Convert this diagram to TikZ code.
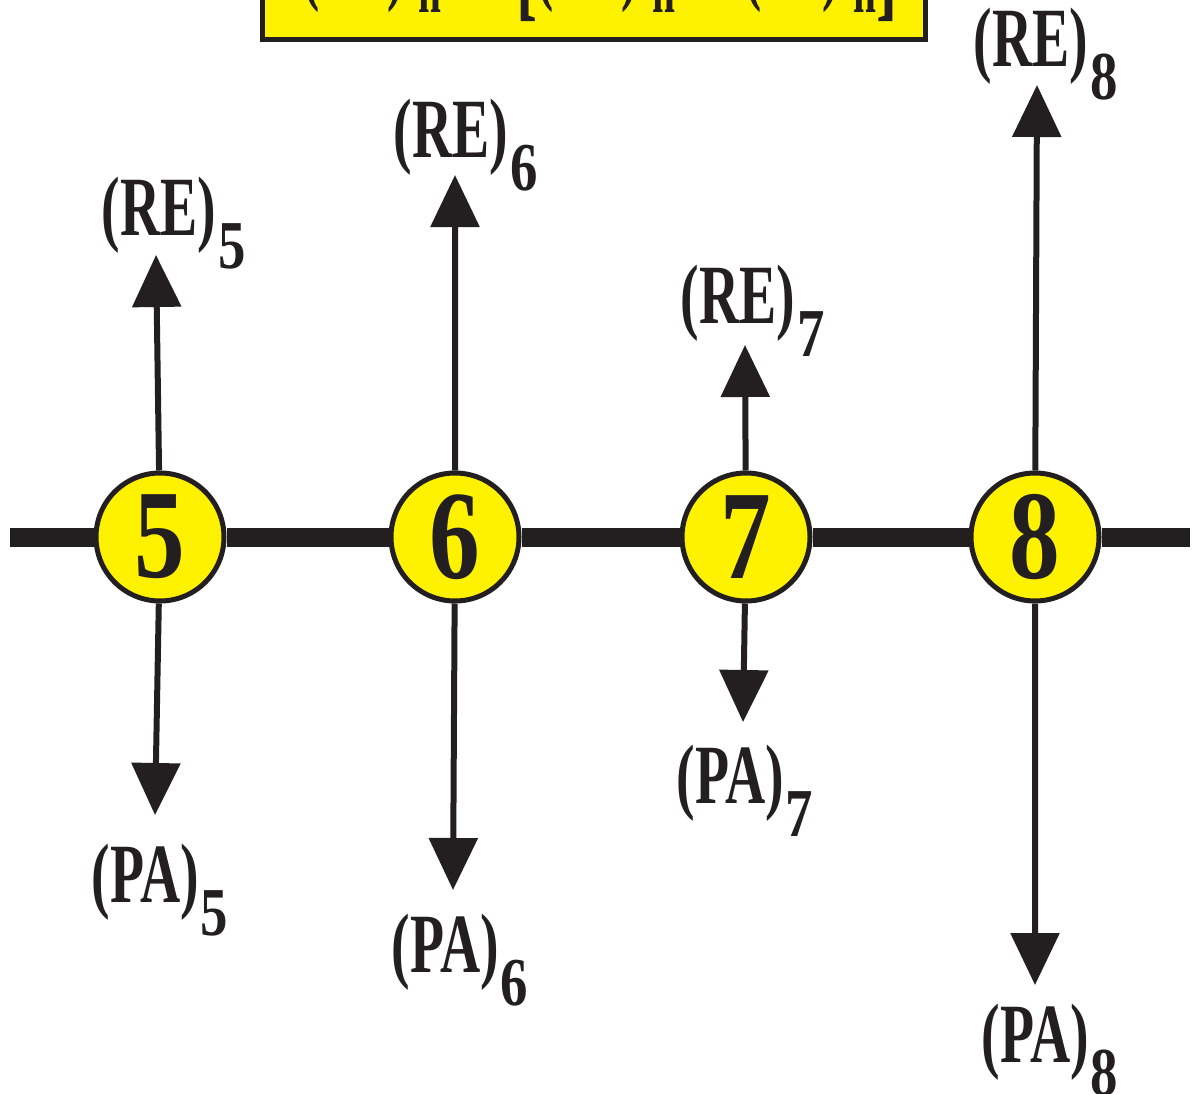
\documentclass[tikz,border=0pt]{standalone}
\usepackage{fontspec}
\setmainfont{Liberation Serif}
\usepackage{graphicx}
\usetikzlibrary{arrows.meta,positioning}
\definecolor{ink}{RGB}{35,31,32}
\definecolor{lemon}{RGB}{255,242,0}
\newcommand{\lbl}[2]{\scalebox{0.66}[1]{\fontsize{24}{24}\selectfont(#1)}\kern0.02cm\raisebox{-0.33cm}{\scalebox{0.8}[1]{\fontsize{19.5}{19.5}\selectfont#2}}}
\newcommand{\dig}[1]{\scalebox{0.8}[1]{#1}}
\newcommand{\subn}{\raisebox{-0.17cm}{\fontsize{19.5}{19.5}\selectfont n}}
\newcommand{\eqtext}{\scalebox{0.6}[1]{\fontsize{23}{23}\selectfont(NE)\kern0.25cm\subn\kern0.40cm=\kern0.40cm\raisebox{-0.12cm}{\fontsize{30}{30}\selectfont[}(RE)\kern0.25cm\subn\kern0.35cm−\kern0.35cm(PA)\kern0.25cm\subn\raisebox{-0.12cm}{\fontsize{30}{30}\selectfont]}}}

\begin{document}
\begin{tikzpicture}[node distance=1.6cm]
	\tikzstyle{every node}=[text=ink,font=\bfseries]
	\tikzstyle{stage}=[circle,draw=ink,fill=lemon,line width=0.05cm,minimum size=1.28cm,inner sep=0,font=\bfseries\fontsize{36}{36}\selectfont]
	\tikzstyle{rail}=[draw=ink,line width=0.19cm]
	\tikzstyle{flow}=[color=ink,line width=0.06cm,-{Triangle[width=0.48cm,length=0.52cm]}]
	\tikzstyle{tag}=[anchor=base west,inner sep=0]
	\tikzstyle{eqbox}=[rectangle,draw=ink,fill=lemon,line width=0.05cm,outer sep=0,minimum width=6.63cm,minimum height=2cm,anchor=south west]

	\useasboundingbox (0,0) rectangle (11.92,-10.94);

	\node[eqbox] (eqn) at (2.625,-0.395) {};
	\node[tag] (eq) at (3.03,0.04) {\eqtext};

	\node[stage] (s5) at (1.60,-5.37) {\dig{5}};
	\node[stage,right=1.62cm of s5] (s6) {\dig{6}};
	\node[stage,right=1.58cm of s6] (s7) {\dig{7}};
	\node[stage,right=1.56cm of s7] (s8) {\dig{8}};

	\coordinate (w) at (0.10,-5.37);
	\coordinate (e) at (11.90,-5.37);
	\draw[rail] (w) -- (s5) (s5) -- (s6) (s6) -- (s7) (s7) -- (s8) (s8) -- (e);

	\coordinate (r5) at (1.56,-2.55);
	\coordinate (p5) at (1.55,-8.15);
	\coordinate (r6) at (4.55,-1.75);
	\coordinate (p6) at (4.53,-8.90);
	\coordinate (r7) at (7.45,-3.45);
	\coordinate (p7) at (7.43,-7.22);
	\coordinate (r8) at (10.37,-0.85);
	\coordinate (p8) at (10.35,-9.85);

	\draw[flow] (s5) -- (r5);
	\draw[flow] (s5) -- (p5);
	\draw[flow] (s6) -- (r6);
	\draw[flow] (s6) -- (p6);
	\draw[flow] (s7) -- (r7);
	\draw[flow] (s7) -- (p7);
	\draw[flow] (s8) -- (r8);
	\draw[flow] (s8) -- (p8);

	\node[tag] (re5) at (1.01,-2.35) {\lbl{RE}{5}};
	\node[tag] (re6) at (3.93,-1.57) {\lbl{RE}{6}};
	\node[tag] (re7) at (6.80,-3.23) {\lbl{RE}{7}};
	\node[tag] (re8) at (9.73,-0.67) {\lbl{RE}{8}};
	\node[tag] (pa5) at (0.91,-9.02) {\lbl{PA}{5}};
	\node[tag] (pa6) at (3.91,-9.72) {\lbl{PA}{6}};
	\node[tag] (pa7) at (6.76,-8.03) {\lbl{PA}{7}};
	\node[tag] (pa8) at (9.81,-10.62) {\lbl{PA}{8}};
\end{tikzpicture}
\end{document}
